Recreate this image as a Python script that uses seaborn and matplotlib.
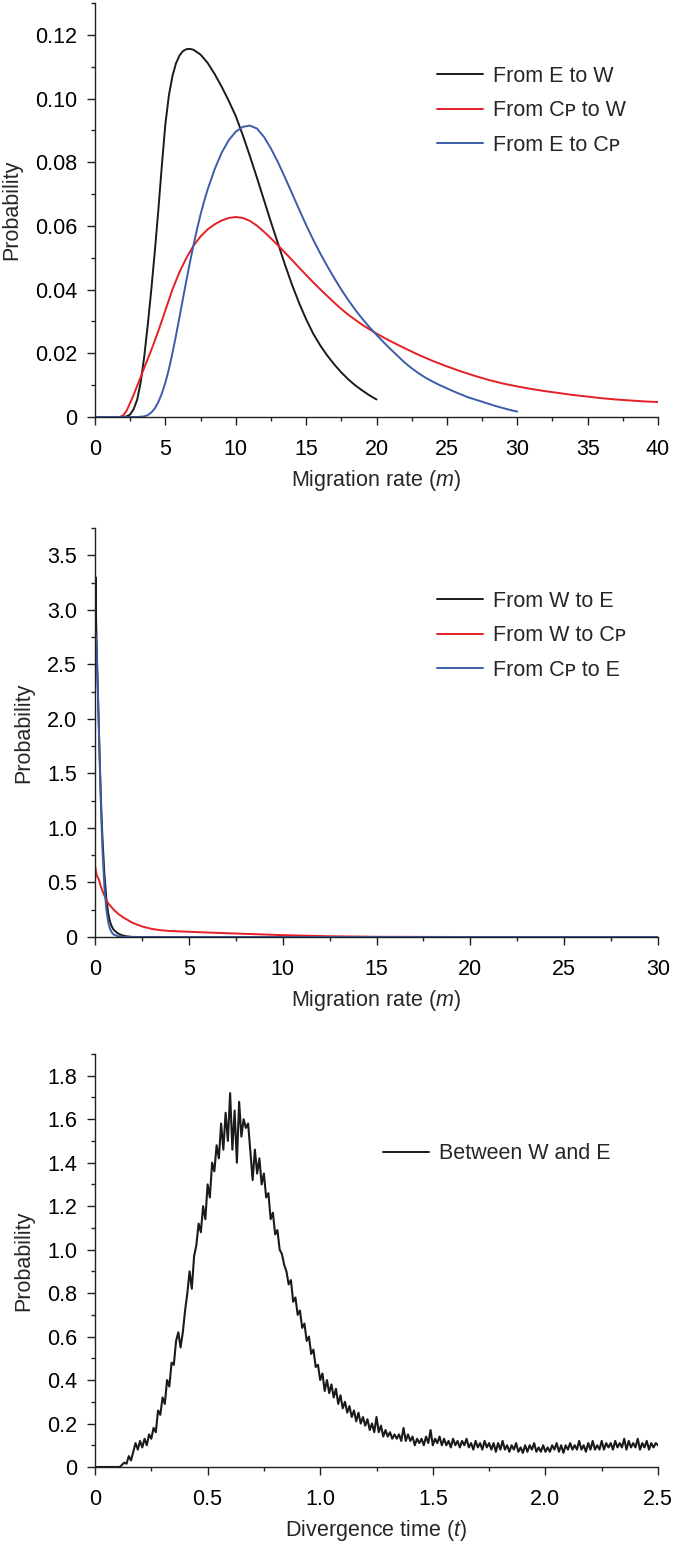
import numpy as np
import pandas as pd
import matplotlib
matplotlib.use("Agg")
import matplotlib.pyplot as plt
from matplotlib.ticker import MultipleLocator, FuncFormatter
import seaborn as sns

# ---------------- data: panel 1 (migration rate, top) ----------------
p1_ew_x = [0, 0.5, 1, 1.5, 2, 2.25, 2.5, 2.75, 3, 3.25, 3.5, 3.75, 4, 4.25, 4.5, 4.75, 5,
           5.25, 5.5, 5.75, 6, 6.25, 6.5, 6.75, 7, 7.5, 8, 8.5, 9, 9.5, 10, 10.5, 11, 11.5,
           12, 12.5, 13, 13.5, 14, 14.5, 15, 15.5, 16, 16.5, 17, 17.5, 18, 18.5, 19, 19.5, 20]
p1_ew_y = [0, 0, 0, 0, 0, 0.0002, 0.0008, 0.0025, 0.0055, 0.011, 0.019, 0.029, 0.040, 0.052,
           0.065, 0.079, 0.092, 0.101, 0.107, 0.111, 0.1135, 0.1149, 0.1155, 0.1156, 0.1153,
           0.1138, 0.1112, 0.1077, 0.1037, 0.0993, 0.0945, 0.0885, 0.0820, 0.0752, 0.0682,
           0.0612, 0.0545, 0.0478, 0.0415, 0.0358, 0.0307, 0.0262, 0.0225, 0.0193, 0.0165,
           0.0140, 0.0118, 0.0099, 0.0083, 0.0068, 0.0055]

p1_cw_x = [0, 0.5, 1, 1.5, 1.75, 2, 2.25, 2.5, 2.75, 3, 3.25, 3.5, 4, 4.5, 5, 5.5, 6, 6.5, 7,
           7.5, 8, 8.5, 9, 9.5, 10, 10.5, 11, 11.5, 12, 12.5, 13, 13.5, 14, 14.5, 15, 15.5,
           16, 16.5, 17, 17.5, 18, 19, 20, 21, 22, 23, 24, 25, 26, 27, 28, 29, 30, 31, 32,
           33, 34, 35, 36, 37, 38, 39, 40]
p1_cw_y = [0, 0, 0, 0, 0, 0.0005, 0.002, 0.0045, 0.007, 0.0098, 0.0126, 0.0155, 0.021, 0.027,
           0.0335, 0.040, 0.0455, 0.0500, 0.0538, 0.0567, 0.0589, 0.0605, 0.0617, 0.0625,
           0.0628, 0.0625, 0.0616, 0.0601, 0.0582, 0.0561, 0.0539, 0.0516, 0.0493, 0.0469,
           0.0446, 0.0423, 0.0401, 0.0380, 0.0359, 0.0339, 0.0321, 0.0289, 0.0262, 0.0238,
           0.0216, 0.0195, 0.0176, 0.0159, 0.0143, 0.0129, 0.0116, 0.0105, 0.0096, 0.0088,
           0.0081, 0.0075, 0.0069, 0.0064, 0.0059, 0.0055, 0.0052, 0.0049, 0.0047]

p1_ec_x = [0, 1, 2, 3, 3.5, 3.75, 4, 4.25, 4.5, 4.75, 5, 5.25, 5.5, 5.75, 6, 6.25, 6.5, 6.75,
           7, 7.25, 7.5, 7.75, 8, 8.5, 9, 9.5, 10, 10.5, 11, 11.5, 12, 12.5, 13, 13.5, 14,
           14.5, 15, 15.5, 16, 16.5, 17, 17.5, 18, 18.5, 19, 19.5, 20, 20.5, 21, 21.5, 22,
           22.5, 23, 23.5, 24, 24.5, 25, 25.5, 26, 26.5, 27, 27.5, 28, 28.5, 29, 29.5, 30]
p1_ec_y = [0, 0, 0, 0, 0.0002, 0.0006, 0.0014, 0.0027, 0.0047, 0.0074, 0.0108, 0.0150, 0.0200,
           0.0255, 0.0313, 0.0372, 0.0430, 0.0487, 0.0540, 0.0590, 0.0636, 0.0677, 0.0714,
           0.0778, 0.0830, 0.0869, 0.0896, 0.0911, 0.0915, 0.0906, 0.0880, 0.0843, 0.0800,
           0.0752, 0.0702, 0.0652, 0.0603, 0.0557, 0.0514, 0.0474, 0.0436, 0.0400, 0.0367,
           0.0336, 0.0308, 0.0282, 0.0258, 0.0235, 0.0213, 0.0192, 0.0171, 0.0153, 0.0137,
           0.0123, 0.0111, 0.0100, 0.0090, 0.0080, 0.0071, 0.0062, 0.0055, 0.0048, 0.0041,
           0.0034, 0.0028, 0.0022, 0.0017]

p1_labels = ["From E to W", "From C\u1d18 to W", "From E to C\u1d18"]

# ---------------- data: panel 2 (migration rate, middle) ----------------
p2_we_x = [0, 0.03, 0.06, 0.1, 0.15, 0.2, 0.25, 0.3, 0.35, 0.4, 0.5, 0.6, 0.7, 0.8, 0.9,
           1.0, 1.2, 1.4, 1.6, 1.8, 2.0, 2.5, 30]
p2_we_y = [2.8, 3.3, 2.9, 2.6, 2.28, 1.95, 1.64, 1.35, 1.1, 0.9, 0.58, 0.36, 0.22, 0.14,
           0.095, 0.065, 0.035, 0.018, 0.009, 0.004, 0.001, 0, 0]

p2_wc_x = [0, 0.05, 0.1, 0.2, 0.3, 0.4, 0.5, 0.6, 0.7, 0.85, 1.0, 1.25, 1.5, 1.75, 2.0, 2.5,
           3.0, 3.5, 4.0, 5.0, 6.0, 7.5, 10, 12.5, 15, 20, 30]
p2_wc_y = [0.66, 0.60, 0.56, 0.53, 0.47, 0.42, 0.38, 0.34, 0.31, 0.28, 0.25, 0.21, 0.18,
           0.155, 0.13, 0.097, 0.075, 0.062, 0.055, 0.048, 0.041, 0.032, 0.017, 0.007,
           0.002, 0, 0]

p2_ce_x = [0, 0.05, 0.1, 0.15, 0.2, 0.25, 0.3, 0.35, 0.4, 0.5, 0.6, 0.7, 0.8, 0.9, 1.0,
           1.2, 1.5, 2.0, 30]
p2_ce_y = [2.8, 2.75, 2.55, 2.27, 1.95, 1.62, 1.3, 1.03, 0.8, 0.46, 0.26, 0.14, 0.075,
           0.04, 0.022, 0.008, 0.002, 0, 0]

p2_labels = ["From W to E", "From W to C\u1d18", "From C\u1d18 to E"]

# ---------------- data: panel 3 (divergence time) ----------------
p3_prob = [
    0, 0, 0, 0, 0, 0, 0, 0, 0, 0,
    0, 0, 0.01, 0.02, 0.015, 0.05, 0.03, 0.07, 0.11, 0.08,
    0.12, 0.09, 0.13, 0.10, 0.15, 0.13, 0.18, 0.16, 0.26, 0.24,
    0.32, 0.29, 0.40, 0.37, 0.48, 0.47, 0.58, 0.62, 0.55, 0.62,
    0.72, 0.80, 0.90, 0.82, 0.97, 1.02, 1.12, 1.08, 1.20, 1.14,
    1.30, 1.24, 1.40, 1.36, 1.48, 1.42, 1.58, 1.46, 1.63, 1.50,
    1.72, 1.46, 1.64, 1.40, 1.68, 1.52, 1.60, 1.56, 1.58, 1.45,
    1.32, 1.46, 1.35, 1.42, 1.30, 1.35, 1.24, 1.26, 1.14, 1.17,
    1.07, 1.09, 1.00, 0.98, 0.93, 0.90, 0.84, 0.86, 0.76, 0.78,
    0.70, 0.72, 0.64, 0.66, 0.58, 0.60, 0.52, 0.54, 0.46, 0.47,
    0.40, 0.43, 0.35, 0.40, 0.34, 0.38, 0.32, 0.36, 0.29, 0.33,
    0.27, 0.30, 0.25, 0.28, 0.23, 0.26, 0.21, 0.25, 0.20, 0.23,
    0.19, 0.22, 0.17, 0.20, 0.16, 0.23, 0.16, 0.19, 0.14, 0.17,
    0.14, 0.16, 0.13, 0.15, 0.13, 0.15, 0.12, 0.18, 0.12, 0.15,
    0.12, 0.14, 0.10, 0.13, 0.11, 0.13, 0.10, 0.14, 0.11, 0.17,
    0.10, 0.13, 0.11, 0.14, 0.10, 0.13, 0.10, 0.12, 0.09, 0.13,
    0.10, 0.12, 0.09, 0.12, 0.10, 0.13, 0.09, 0.11, 0.08, 0.12,
    0.09, 0.11, 0.08, 0.12, 0.09, 0.11, 0.08, 0.11, 0.07, 0.11,
    0.08, 0.12, 0.08, 0.10, 0.07, 0.10, 0.08, 0.11, 0.07, 0.09,
    0.065, 0.10, 0.07, 0.10, 0.08, 0.11, 0.07, 0.09, 0.07, 0.10,
    0.07, 0.09, 0.07, 0.10, 0.08, 0.11, 0.07, 0.10, 0.065, 0.10,
    0.08, 0.11, 0.08, 0.10, 0.08, 0.12, 0.08, 0.10, 0.07, 0.11,
    0.08, 0.12, 0.08, 0.10, 0.08, 0.12, 0.08, 0.11, 0.09, 0.11,
    0.08, 0.12, 0.09, 0.11, 0.09, 0.13, 0.08, 0.12, 0.09, 0.11,
    0.09, 0.13, 0.08, 0.11, 0.09, 0.12, 0.08, 0.11, 0.09, 0.11,
    0.10,
]
p3_time = np.linspace(0, 2.5, len(p3_prob))
p3_labels = ["Between W and E"]

colors = ["#1a1a1a", "#e41f26", "#3b5ca8"]

# ---------------- style ----------------
sns.set_theme(style="ticks")
plt.rcParams["font.family"] = ["Liberation Sans", "DejaVu Sans"]
plt.rcParams["mathtext.fontset"] = "custom"
plt.rcParams["mathtext.rm"] = "Liberation Sans"
plt.rcParams["mathtext.it"] = "Liberation Sans:italic"
FS = 15.5
axis_col = "#231f20"

fig = plt.figure(figsize=(6.73, 15.42), dpi=100)
L, W = 95 / 673, 563 / 673
ax1 = fig.add_axes([L, (1542 - 417) / 1542, W, 414 / 1542])
ax2 = fig.add_axes([L, (1542 - 937) / 1542, W, 409 / 1542])
ax3 = fig.add_axes([L, (1542 - 1467) / 1542, W, 413 / 1542])


def long_df(xs, ys, labels):
    frames = []
    for x, y, lab in zip(xs, ys, labels):
        frames.append(pd.DataFrame({"x": x, "y": y, "series": lab}))
    return pd.concat(frames, ignore_index=True)


def num_fmt(dec):
    def f(v, pos):
        if abs(v) < 1e-12:
            return "0"
        return f"{v:.{dec}f}"
    return FuncFormatter(f)


def style_axes(ax, xmax, xmaj, xmin, ymax, ymaj, ymin, xdec, ydec, xlabel):
    ax.set_xlim(0, xmax)
    ax.set_ylim(0, ymax)
    ax.xaxis.set_major_locator(MultipleLocator(xmaj))
    ax.xaxis.set_minor_locator(MultipleLocator(xmin))
    ax.yaxis.set_major_locator(MultipleLocator(ymaj))
    ax.yaxis.set_minor_locator(MultipleLocator(ymin))
    ax.xaxis.set_major_formatter(num_fmt(xdec))
    ax.yaxis.set_major_formatter(num_fmt(ydec))
    sns.despine(ax=ax)
    for s in ["left", "bottom"]:
        ax.spines[s].set_color(axis_col)
        ax.spines[s].set_linewidth(1.0)
    ax.tick_params(which="major", direction="out", length=6.0, width=1.0,
                   color=axis_col, labelsize=FS, labelcolor="black")
    ax.tick_params(axis="x", which="major", pad=9.5)
    ax.tick_params(axis="y", which="major", pad=7.0)
    ax.tick_params(which="minor", direction="out", length=3.2, width=1.0, color=axis_col)
    ax.set_xlabel(xlabel, fontsize=FS, labelpad=6)
    ax.set_ylabel("Probability", fontsize=FS, labelpad=9)
    ax.set_facecolor("white")


def add_legend(ax, x, y):
    leg = ax.legend(loc="upper left", bbox_to_anchor=(x, y), frameon=False,
                    fontsize=FS, handlelength=2.15, handletextpad=0.47,
                    labelspacing=0.63, borderaxespad=0, borderpad=0)
    for line in leg.get_lines():
        line.set_linewidth(1.4)


# Panel 1
df1 = long_df([p1_ew_x, p1_cw_x, p1_ec_x], [p1_ew_y, p1_cw_y, p1_ec_y], p1_labels)
sns.lineplot(data=df1, x="x", y="y", hue="series", hue_order=p1_labels,
             palette=colors, sort=False, estimator=None, linewidth=1.4, ax=ax1)
style_axes(ax1, 40, 5, 2.5, 0.13, 0.02, 0.01, 0, 2, r"Migration rate ($\mathit{m}$)")
add_legend(ax1, 0.6075, 0.8486)

# Panel 2
df2 = long_df([p2_we_x, p2_wc_x, p2_ce_x], [p2_we_y, p2_wc_y, p2_ce_y], p2_labels)
sns.lineplot(data=df2, x="x", y="y", hue="series", hue_order=p2_labels,
             palette=colors, sort=False, estimator=None, linewidth=1.4, ax=ax2)
style_axes(ax2, 30, 5, 2.5, 3.75, 0.5, 0.25, 0, 1, r"Migration rate ($\mathit{m}$)")
add_legend(ax2, 0.6075, 0.8467)

# Panel 3
df3 = pd.DataFrame({"x": p3_time, "y": p3_prob, "series": p3_labels[0]})
sns.lineplot(data=df3, x="x", y="y", hue="series", palette=[colors[0]],
             sort=False, estimator=None, linewidth=1.5, ax=ax3)
style_axes(ax3, 2.5, 0.5, 0.25, 1.9, 0.2, 0.1, 1, 1, r"Divergence time ($\mathit{t}$)")
add_legend(ax3, 0.5115, 0.7844)

fig.savefig("out.png", dpi=100, facecolor="white")
